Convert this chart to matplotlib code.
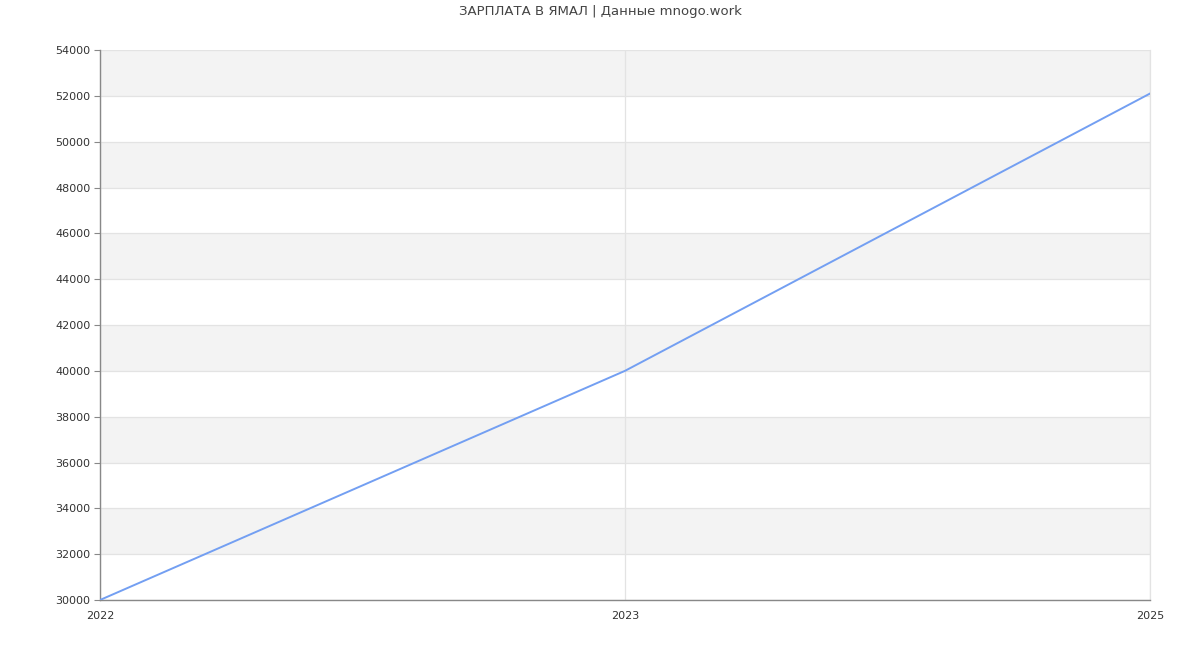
import numpy as np
import matplotlib.pyplot as plt

# data
years = ["2022", "2023", "2025"]
salary = [30000, 40000, 52100]

y_min, y_max, y_step = 30000, 54000, 2000

fig = plt.figure(figsize=(12, 6.5), dpi=100)
ax = fig.add_axes([100 / 1200, 50 / 650, 1050 / 1200, 550 / 650])

x = np.arange(len(years))

# alternating bands
for i, lo in enumerate(range(y_min, y_max, y_step)):
    if i % 2 == 1:
        ax.axhspan(lo, lo + y_step, color="#f3f3f3", zorder=0, lw=0)

ax.set_ylim(y_min, y_max)
ax.set_xlim(x[0], x[-1])
ax.set_yticks(np.arange(y_min, y_max + 1, y_step))
ax.set_xticks(x)
ax.set_xticklabels(years)

ax.grid(True, color="#e3e3e3", lw=0.9, zorder=1)
ax.set_axisbelow(True)

ax.plot(x, salary, color="#739ff2", lw=1.4, zorder=3)

ax.spines["top"].set_visible(False)
ax.spines["right"].set_color("#e3e3e3")
ax.spines["right"].set_linewidth(0.9)
for side in ["left", "bottom"]:
    ax.spines[side].set_color("#888888")
    ax.spines[side].set_linewidth(1.0)

ax.tick_params(axis="y", length=4, color="#888888", labelsize=8, labelcolor="#333333", pad=3)
ax.tick_params(axis="x", length=0, labelsize=8, labelcolor="#333333", pad=8)

fig.text(0.5, 1 - 12 / 650, "ЗАРПЛАТА В ЯМАЛ | Данные mnogo.work",
         ha="center", va="center", fontsize=9.5, color="#444444")

fig.savefig("out.png", dpi=100)
